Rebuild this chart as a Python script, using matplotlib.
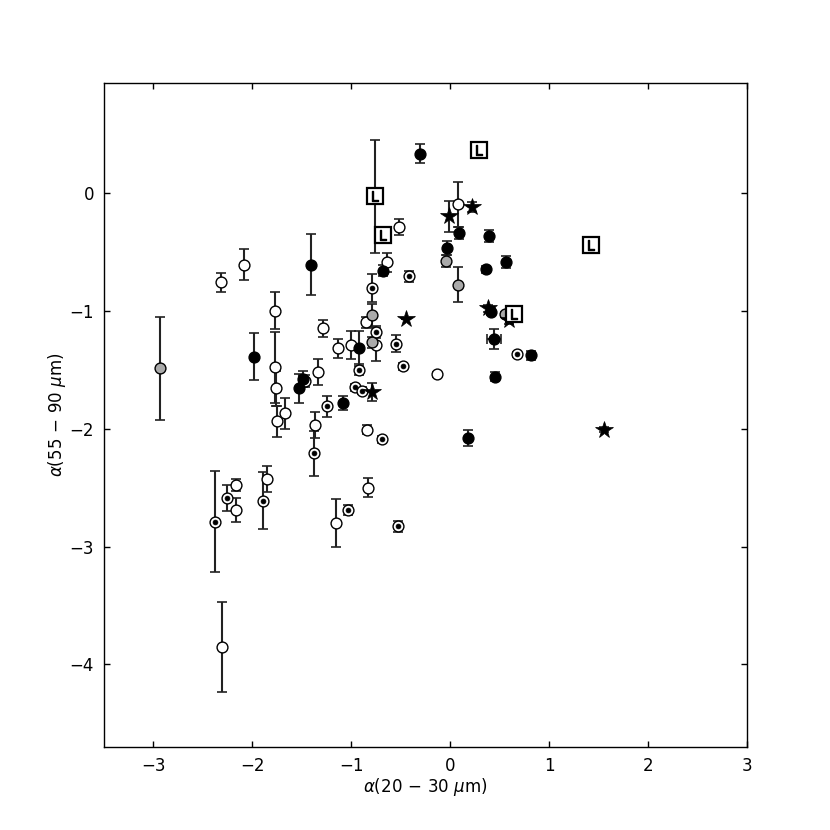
import matplotlib
matplotlib.use("Agg")
import matplotlib.pyplot as plt
import numpy as np

plt.rcParams['font.family'] = ['DejaVu Sans']
plt.rcParams['mathtext.fontset'] = 'dejavusans'

# open circles
open_x = [-2.32, -2.08, -1.77, -1.77, -1.76, -1.75, -1.67, -1.47, -1.33, -1.28, -1.13, -1.00, -0.85,
          -0.75, -0.52, -0.64, 0.08, -0.13, -1.37, -0.84, -0.83, -1.85, -2.16, -2.16, -1.15, -2.31]
open_y = [-0.76, -0.61, -1.00, -1.48, -1.66, -1.94, -1.87, -1.60, -1.52, -1.15, -1.32, -1.29, -1.10,
          -1.29, -0.29, -0.59, -0.10, -1.54, -1.97, -2.01, -2.50, -2.43, -2.48, -2.69, -2.80, -3.85]
open_e = [0.08, 0.13, 0.16, 0.30, 0.15, 0.13, 0.13, 0.05, 0.11, 0.07, 0.08, 0.12, 0.05,
          0.14, 0.065, 0.08, 0.19, 0.02, 0.11, 0.04, 0.08, 0.11, 0.05, 0.10, 0.20, 0.38]

# filled black circles
fill_x = [-1.98, -1.41, -1.53, -1.49, -1.08, -0.92, -0.68, -0.30, 0.09, -0.03, 0.39, 0.36, 0.56,
          0.41, 0.44, 0.82, 0.45, 0.18]
fill_y = [-1.39, -0.61, -1.66, -1.58, -1.78, -1.32, -0.66, 0.33, -0.34, -0.47, -0.37, -0.65, -0.59,
          -1.01, -1.24, -1.38, -1.56, -2.08]
fill_e = [0.20, 0.26, 0.12, 0.07, 0.06, 0.15, 0.05, 0.08, 0.05, 0.06, 0.05, 0.03, 0.05,
          0.03, 0.085, 0.04, 0.04, 0.065]
fill_xe = [0, 0, 0, 0, 0, 0, 0, 0, 0, 0, 0, 0, 0, 0, 0.07, 0, 0, 0]

# grey circles
grey_x = [-2.93, -0.79, -0.79, -0.04, 0.08, 0.55]
grey_y = [-1.49, -1.04, -1.27, -0.58, -0.78, -1.03]
grey_e = [0.44, 0.10, 0.05, 0.05, 0.15, 0.02]

# dotted (bullseye) circles
dot_x = [-0.79, -0.42, -0.75, -0.92, -0.55, -0.48, -0.96, -0.89, -1.24, -1.38, -0.69, -1.89,
         -2.25, -2.38, -1.03, -0.53, 0.68]
dot_y = [-0.81, -0.71, -1.18, -1.50, -1.28, -1.47, -1.65, -1.68, -1.81, -2.21, -2.09, -2.61,
         -2.59, -2.79, -2.69, -2.83, -1.37]
dot_e = [0.12, 0.05, 0.05, 0.05, 0.07, 0.03, 0.03, 0.03, 0.09, 0.19, 0.03, 0.24,
         0.11, 0.43, 0.04, 0.05, 0.02]

# stars
star_x = [-0.45, -0.79, -0.01, 0.22, 0.38, 0.60, 1.55]
star_y = [-1.07, -1.69, -0.20, -0.12, -0.98, -1.08, -2.01]
star_e = [0.0, 0.08, 0.13, 0.04, 0.03, 0.03, 0.02]

# "L" boxes
L_x = [-0.76, -0.68, 0.29, 1.42, 0.65]
L_y = [-0.03, -0.36, 0.36, -0.44, -1.03]
L_ye = [0.48, 0.07, 0.0, 0.0, 0.0]
L_xe = [0.0, 0.0, 0.08, 0.0, 0.0]

fig = plt.figure(figsize=(8.3, 8.3), dpi=100)
ax = fig.add_axes([0.125, 0.1, 0.775, 0.8])

ekw = dict(fmt='none', ecolor='#222222', elinewidth=1.5, capsize=3.5, capthick=1.2, zorder=2)
ax.errorbar(open_x, open_y, yerr=open_e, **ekw)
ax.errorbar(fill_x, fill_y, yerr=fill_e, xerr=fill_xe, **ekw)
ax.errorbar(grey_x, grey_y, yerr=grey_e, **ekw)
ax.errorbar(dot_x, dot_y, yerr=dot_e, **ekw)
ax.errorbar(star_x, star_y, yerr=star_e, **ekw)
ax.errorbar(L_x, L_y, yerr=L_ye, xerr=L_xe, **ekw)

ms = 7.8
ax.plot(open_x, open_y, 'o', ms=ms, mfc='white', mec='black', mew=1.0, ls='none', zorder=3)
ax.plot(fill_x, fill_y, 'o', ms=ms, mfc='black', mec='black', mew=1.0, ls='none', zorder=3)
ax.plot(grey_x, grey_y, 'o', ms=ms, mfc='#aaaaaa', mec='black', mew=1.0, ls='none', zorder=3)
ax.plot(dot_x, dot_y, 'o', ms=ms, mfc='white', mec='black', mew=1.0, ls='none', zorder=3)
ax.plot(dot_x, dot_y, 'o', ms=3.5, mfc='black', mec='black', mew=0.5, ls='none', zorder=4)
ax.plot(star_x, star_y, '*', ms=13, mfc='black', mec='black', mew=0.5, ls='none', zorder=3)
ax.plot(L_x, L_y, 's', ms=11, mfc='white', mec='black', mew=1.6, ls='none', zorder=5)
ax.plot(L_x, L_y, marker=r'$\mathsf{L}$', ms=7, color='black', ls='none', zorder=6)

ax.set_xlim(-3.5, 3)
ax.set_ylim(-4.7, 0.93)
ax.set_xticks([-3, -2, -1, 0, 1, 2, 3])
ax.set_yticks([0, -1, -2, -3, -4])
ax.tick_params(direction='in', top=True, right=True, length=4, width=1, labelsize=12, pad=7)
for s in ax.spines.values():
    s.set_linewidth(1.0)

ax.set_xlabel(r'$\alpha(20\,-\,30\ \mu\mathrm{m})$', fontsize=12, labelpad=1)
ax.set_ylabel(r'$\alpha(55\,-\,90\ \mu\mathrm{m})$', fontsize=12, labelpad=1)

fig.savefig('out.png', dpi=100, facecolor='white')
